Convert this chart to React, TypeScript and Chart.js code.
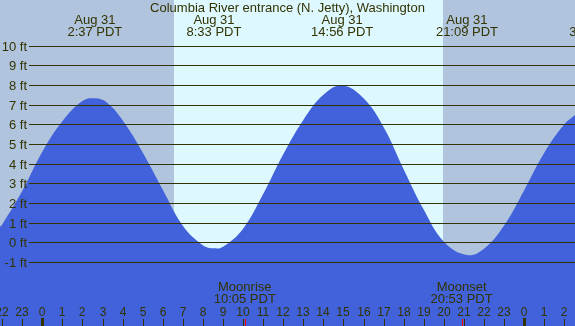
import React, { useEffect, useRef } from "react";
import { Chart, registerables } from "chart.js";

Chart.register(...registerables);

const TITLE = "Columbia River entrance (N. Jetty), Washington";

// Tide heights (ft), by hour of Aug 31 (PDT)
const tideHours = [-2.107, -2, -1, 0, 1, 2, 2.617, 3.2, 4, 5, 6, 7, 8, 8.55, 9, 10, 11, 12, 13, 14, 14.933, 16, 17, 18, 19, 20, 21.15, 22, 23, 24, 25, 26, 26.53];
const tideFeet = [0.79, 0.9, 2.6, 4.6, 6.15, 7.18, 7.32, 7.12, 6.2, 4.56, 2.67, 0.84, -0.15, -0.31, -0.23, 0.69, 2.45, 4.47, 6.22, 7.5, 7.97, 7.32, 5.85, 3.7, 1.65, 0.03, -0.65, -0.33, 0.85, 2.65, 4.55, 6.0, 6.47];

// High / low tide labels
const extremeHours = [2.617, 8.55, 14.933, 21.15, 27.617];
const extremeDates = ["Aug 31", "Aug 31", "Aug 31", "Aug 31", "Sep 1"];
const extremeTimes = ["2:37 PDT", "8:33 PDT", "14:56 PDT", "21:09 PDT", "3:37 PDT"];

// Height grid lines / tick labels
const feetTicks = [10, 9, 8, 7, 6, 5, 4, 3, 2, 1, 0, -1];

// Hour ticks along the bottom
const hourTicks = [-2, -1, 0, 1, 2, 3, 4, 5, 6, 7, 8, 9, 10, 11, 12, 13, 14, 15, 16, 17, 18, 19, 20, 21, 22, 23, 24, 25, 26];

// Sun and moon
const sunriseHour = 6.57;
const sunsetHour = 19.95;
const moonEventHours = [10.083, 20.883];
const moonEventNames = ["Moonrise", "Moonset"];
const moonEventTimes = ["10:05 PDT", "20:53 PDT"];

const X_MIN = -2.107;
const X_MAX = 26.53;
const Y_MIN = -4.26;
const Y_MAX = 12.32;

const NIGHT = "#B0C4DE";
const DAY = "#DDF8FF";
const WATER = "#4162DA";
const INK = "#333300";
const FONT = '"Liberation Sans", Arial, sans-serif';

export default function App() {
  const ref = useRef<HTMLCanvasElement | null>(null);

  useEffect(() => {
    const canvas = ref.current;
    if (!canvas) return;

    const background = {
      id: "bgBands",
      beforeDatasetsDraw(chart: any) {
        const { ctx, scales } = chart;
        const xs = scales.x;
        ctx.save();
        ctx.fillStyle = NIGHT;
        ctx.fillRect(0, 0, chart.width, chart.height);
        const x1 = Math.round(xs.getPixelForValue(sunriseHour));
        const x2 = Math.round(xs.getPixelForValue(sunsetHour));
        ctx.fillStyle = DAY;
        ctx.fillRect(x1, 0, x2 - x1, chart.height);
        ctx.restore();
      },
    };

    const overlay = {
      id: "overlay",
      afterDatasetsDraw(chart: any) {
        const { ctx, scales } = chart;
        const xs = scales.x;
        const ys = scales.y;
        const W = chart.width;
        const H = chart.height;
        ctx.save();
        // grid lines + feet labels
        ctx.strokeStyle = INK;
        ctx.lineWidth = 1;
        ctx.fillStyle = INK;
        ctx.font = `13px ${FONT}`;
        ctx.textAlign = "right";
        ctx.textBaseline = "alphabetic";
        feetTicks.forEach((f) => {
          const y = Math.round(ys.getPixelForValue(f)) + 0.5;
          ctx.beginPath();
          ctx.moveTo(29, y);
          ctx.lineTo(W, y);
          ctx.stroke();
          ctx.fillText(`${f} ft`, 27, y + 4.5);
        });
        // title
        ctx.textAlign = "center";
        ctx.fillText(TITLE, W / 2, 12);
        // extremes
        extremeHours.forEach((h, i) => {
          const x = xs.getPixelForValue(h);
          ctx.fillText(extremeDates[i], x, 24);
          ctx.fillText(extremeTimes[i], x, 36);
        });
        // moon events
        moonEventHours.forEach((h, i) => {
          const x = xs.getPixelForValue(h);
          ctx.fillText(moonEventNames[i], x, 291);
          ctx.fillText(moonEventTimes[i], x, 303);
        });
        // hour ticks
        ctx.font = `12px ${FONT}`;
        hourTicks.forEach((h) => {
          const x = Math.round(xs.getPixelForValue(h));
          const label = String(((h % 24) + 24) % 24);
          ctx.fillText(label, x, 316);
          const mid = ((h % 24) + 24) % 24 === 0;
          ctx.fillStyle = INK;
          if (mid) ctx.fillRect(x - 1, 318, 3, H - 318);
          else ctx.fillRect(x, 319, 1, H - 319);
        });
        ctx.fillStyle = "#FF0000";
        moonEventHours.forEach((h) => {
          const x = Math.round(xs.getPixelForValue(h));
          ctx.fillRect(x, 319, 1, H - 319);
        });
        ctx.restore();
      },
    };

    const chart = new Chart(canvas, {
      type: "line",
      data: {
        datasets: [
          {
            data: tideHours.map((h, i) => ({ x: h, y: tideFeet[i] })),
            fill: "start",
            backgroundColor: WATER,
            borderColor: WATER,
            borderWidth: 0,
            pointRadius: 0,
            tension: 0.4,
          },
        ],
      },
      options: {
        responsive: false,
        animation: false,
        layout: { padding: 0 },
        plugins: { legend: { display: false }, tooltip: { enabled: false }, title: { display: false } },
        scales: {
          x: { type: "linear", min: X_MIN, max: X_MAX, display: false },
          y: { type: "linear", min: Y_MIN, max: Y_MAX, display: false },
        },
      },
      plugins: [background, overlay],
    });

    return () => chart.destroy();
  }, []);

  return (
    <div style={{ position: "fixed", left: 0, top: 0, width: 575, height: 326 }}>
      <canvas ref={ref} width={575} height={326} style={{ width: 575, height: 326, display: "block" }} />
    </div>
  );
}
